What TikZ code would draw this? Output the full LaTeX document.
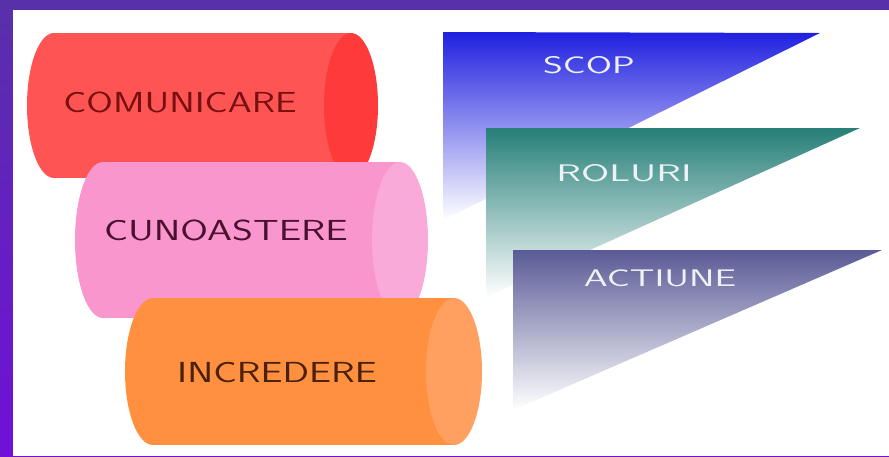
\documentclass[tikz,border=0pt]{standalone}
\usepackage{fontspec}
\definecolor{bgtop}{RGB}{88,48,170}
\definecolor{bgmid}{RGB}{36,24,200}
\definecolor{bgbot}{RGB}{112,16,216}
\definecolor{redbody}{RGB}{255,84,84}
\definecolor{redcap}{RGB}{255,58,58}
\definecolor{redtext}{RGB}{120,16,16}
\definecolor{pinkbody}{RGB}{249,150,206}
\definecolor{pinkcap}{RGB}{250,170,216}
\definecolor{pinktext}{RGB}{74,16,48}
\definecolor{orbody}{RGB}{255,144,64}
\definecolor{orcap}{RGB}{255,160,96}
\definecolor{ortext}{RGB}{74,32,8}
\definecolor{bluetop}{RGB}{32,32,224}
\definecolor{bluemid}{RGB}{150,150,250}
\definecolor{tealtop}{RGB}{38,127,120}
\definecolor{tealmid}{RGB}{150,192,188}
\definecolor{graytop}{RGB}{90,90,150}
\definecolor{graymid}{RGB}{170,170,200}
\definecolor{tritext}{RGB}{236,242,246}
\begin{document}
\begin{tikzpicture}[x=1pt,y=-1pt,
  cyltext/.style={font=\sffamily\fontsize{29}{32}\selectfont, inner sep=0pt},
  tritextstyle/.style={font=\sffamily\fontsize{24}{28}\selectfont, inner sep=0pt, text=tritext}]
\useasboundingbox (0,0) rectangle (889,456);
% frame
\shade[top color=bgtop, middle color=bgmid, bottom color=bgbot] (0,0) rectangle (889,456);
\fill[bgtop] (0,0) rectangle (889,10);
\fill[white] (13,10) rectangle (889,456);
% triangles
\shade[top color=bluetop, middle color=bluemid, bottom color=white] (443,32) -- (820,33) -- (443,220) -- cycle;
\shade[top color=tealtop, middle color=tealmid, bottom color=white] (486,128) -- (860,128) -- (486,297) -- cycle;
\shade[top color=graytop, middle color=graymid, bottom color=white] (513,250) -- (882,250) -- (513,410) -- cycle;
\node[tritextstyle] (scop) at (589,65) {\scalebox{1.58}[1]{SCOP}};
\node[tritextstyle] (roluri) at (624,173) {\scalebox{1.70}[1]{ROLURI}};
\node[tritextstyle] (actiune) at (660,278) {\scalebox{1.60}[1]{ACTIUNE}};
% red cylinder
\fill[redbody] (54,105.5) ellipse [x radius=27pt, y radius=72.5pt];
\fill[redbody] (54,33) rectangle (351,178);
\fill[redcap] (351,105.5) ellipse [x radius=27pt, y radius=72.5pt];
\node[cyltext, text=redtext] (comunicare) at (180,102) {\scalebox{1.325}[1]{COMUNICARE}};
% pink cylinder
\fill[pinkbody] (103,240) ellipse [x radius=28pt, y radius=78pt];
\fill[pinkbody] (103,162) rectangle (400,318);
\fill[pinkcap] (400,240) ellipse [x radius=28pt, y radius=78pt];
\node[cyltext, text=pinktext] (cunoastere) at (226,230) {\scalebox{1.38}[1]{CUNOASTERE}};
% orange cylinder
\fill[orbody] (153,371.5) ellipse [x radius=28pt, y radius=73.5pt];
\fill[orbody] (153,298) rectangle (454,445);
\fill[orcap] (454,371.5) ellipse [x radius=28pt, y radius=73.5pt];
\node[cyltext, text=ortext] (incredere) at (277,373) {\scalebox{1.35}[1]{INCREDERE}};
\end{tikzpicture}
\end{document}
